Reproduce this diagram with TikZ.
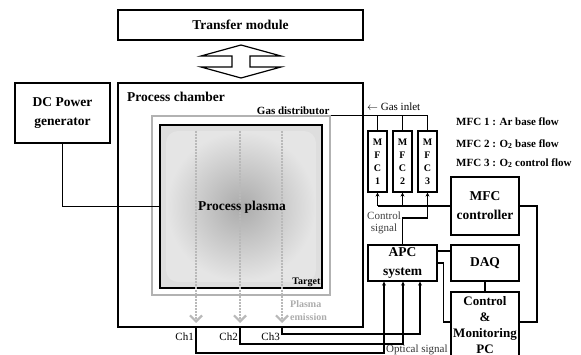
\documentclass[tikz,border=0pt]{standalone}
\usepackage{fontspec}
\setmainfont{Liberation Serif}
\usetikzlibrary{arrows.meta,calc}
\tikzset{
  pcBox/.style={draw, line width=1.2pt, align=center, inner sep=0pt,
    font=\fontsize{13.5}{19}\selectfont\bfseries},
  pcHead/.style={align=center, inner sep=0pt,
    font=\fontsize{13.5}{19}\selectfont\bfseries},
  pcMfc/.style={draw, line width=1.2pt, align=center, inner sep=0pt,
    minimum width=19pt, minimum height=61pt,
    font=\fontsize{10}{13}\selectfont\bfseries},
  pcLbl/.style={font=\fontsize{11}{13}\selectfont\bfseries, inner sep=1pt},
  pcNote/.style={font=\fontsize{11}{12}\selectfont, text=black!75, align=center, inner sep=0pt},
  %% wires
  pcwire/.style={line width=1.1pt},
  pcsig/.style={-{Stealth[length=4pt,width=4pt]}, line width=1.1pt},
  pcemit/.style={gray!55, line width=1.7pt, dash pattern=on 1.6pt off 1.4pt,
    -{Straight Barb[length=6pt,width=12pt,line width=2.2pt]}},
}
\begin{document}
\begin{tikzpicture}[x=1pt, y=-1pt]
\useasboundingbox (0,0) rectangle (581,355);
\clip (0,0) rectangle (581,355);

%% Chamber side
\node[pcBox, minimum width=245pt, minimum height=30pt] (tm) at (240.5,25) {Transfer module};
\draw[line width=1.2pt] (241,45) -- (281,56) -- (250,56) -- (250,67) -- (281,67) -- (241,78)
  -- (201,67) -- (232,67) -- (232,56) -- (201,56) -- cycle;
\node[pcBox, minimum width=245pt, minimum height=244pt] (chamber) at (240.5,205) {};
\node[pcHead, anchor=west] (chlbl) at (127,97) {Process chamber};
\node[pcBox, minimum width=95pt, minimum height=60pt] (dc) at (62.5,113) {DC Power\\generator};

\node[draw=gray!60, line width=1.2pt, minimum width=178pt, minimum height=179pt] (gasd) at (241,205.5) {};
\node[pcLbl, anchor=south east] (gasdlbl) at (gasd.north east) {Gas distributor};
\node[pcBox, fill=black!13, minimum width=162pt, minimum height=163pt] (target) at (241,206.5) {};
\shade[inner color=black!33, outer color=black!10, rounded corners=12pt] (166,131) rectangle (316,282);
\node[font=\fontsize{10}{12}\selectfont\bfseries, anchor=south east, inner sep=2pt] (tgtlbl) at (target.south east) {Target};

%% Emission channels
\coordinate (ch1) at (196,327);
\coordinate (ch2) at (240,327);
\coordinate (ch3) at (282,327);
\foreach \c in {ch1,ch2,ch3}
  \draw[pcemit] ($(\c)+(0,-196)$) -- ($(\c)+(0,-4)$);
\node[pcHead] (plasma) at (242,207) {Process plasma};
\node[font=\fontsize{10}{13}\selectfont\bfseries, text=gray!65, align=left, anchor=west, inner sep=0pt]
  (emis) at (290,311) {Plasma\\emission};
\node[font=\fontsize{11}{12}\selectfont, anchor=east, inner sep=1pt] at ($(ch1)+(-1,10)$) {Ch1};
\node[font=\fontsize{11}{12}\selectfont, anchor=east, inner sep=1pt] at ($(ch2)+(-1,10)$) {Ch2};
\node[font=\fontsize{11}{12}\selectfont, anchor=east, inner sep=1pt] at ($(ch3)+(-1,10)$) {Ch3};

%% Gas and control side
\node[pcMfc] (mfc1) at (377.5,161.5) {M\\F\\C\\1};
\node[pcMfc] (mfc2) at (402.5,161.5) {M\\F\\C\\2};
\node[pcMfc] (mfc3) at (427.5,161.5) {M\\F\\C\\3};
\node[font=\fontsize{11}{12}\selectfont, anchor=west, inner sep=0pt] (inlet) at (367,107) {$\leftarrow$ Gas inlet};
\node[pcLbl, anchor=west] (leg1) at (455,122) {MFC 1 : Ar base flow};
\node[pcLbl, anchor=west] (leg2) at (455,144) {MFC 2 : O\textsubscript{2} base flow};
\node[pcLbl, anchor=west] (leg3) at (455,163) {MFC 3 : O\textsubscript{2} control flow};

\node[pcBox, minimum width=68pt, minimum height=58pt] (mfcc) at (485,206) {MFC\\controller};
\node[pcBox, minimum width=68pt, minimum height=36pt] (daq) at (485,263) {DAQ};
\node[pcBox, minimum width=68pt, minimum height=66pt, font=\fontsize{13}{16}\selectfont\bfseries]
  (pc) at (485,325) {Control\\\&\\Monitoring\\PC};
\node[pcBox, minimum width=69pt, minimum height=36pt] (apc) at (402.5,263) {APC\\system};
\node[pcNote] (ctrl) at (384,223) {Control\\signal};
\node[pcNote, text=black!80, anchor=west] (optic) at (386,350) {Optical signal};

%% Wires
\draw[pcwire] (dc.south) |- (target.west);
\draw[pcwire] (gasd.north east) -| (mfc3.north);
\draw[pcwire] (mfc1.north |- gasd.north east) -- (mfc1.north);
\draw[pcwire] (mfc2.north |- gasd.north east) -- (mfc2.north);
\draw[pcwire] (mfcc.west) -- (mfc1.south |- mfcc.west);
\draw[pcsig] (mfc1.south |- mfcc.west) -- (mfc1.south);
\draw[pcsig] (mfc2.south |- mfcc.west) -- (mfc2.south);
\draw[pcsig] (apc.north) |- (427.5,218) -- (mfc3.south);
\draw[pcwire] (mfcc.east) -- (537,206) |- (pc.east |- 0,322);
\draw[pcwire] (apc.east |- 0,251) -- (daq.west |- 0,251);
\draw[pcwire] (apc.east) -- ++(6,0) |- (pc.west |- 0,322);
\draw[pcwire] (daq.south) -- (pc.north);
\draw[pcsig] (ch1) |- (384,353) -- (apc.south -| 384,0);
\draw[pcsig] (ch2) |- (403,344) -- (apc.south -| 403,0);
\draw[pcsig] (ch3) |- (420,334) -- (apc.south -| 420,0);

\end{tikzpicture}
\end{document}
